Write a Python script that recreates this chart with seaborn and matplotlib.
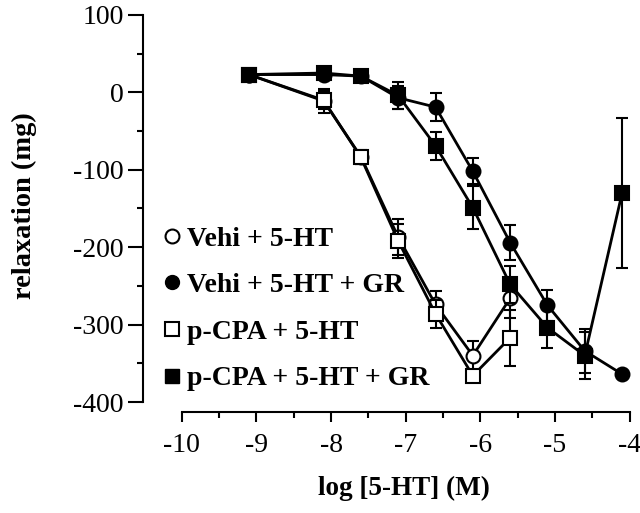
import numpy as np
import pandas as pd
import matplotlib
matplotlib.use("Agg")
import matplotlib.pyplot as plt
import seaborn as sns
from matplotlib.ticker import FixedLocator
from matplotlib.lines import Line2D

# ---- data ----
log_conc = [-9.1, -8.1, -7.6, -7.1, -6.6, -6.1, -5.6, -5.1, -4.6, -4.1]

vehi_5ht = [23, -11, -83, -187, -274, -340, -266]
vehi_5ht_err = [0, 15, 9, 23, 17, 19, 25]

vehi_5ht_gr = [23, 23, 21, -7, -19, -102, -194, -275, -334, -364]
vehi_5ht_gr_err = [0, 0, 0, 15, 18, 17, 23, 20, 28, 0]

pcpa_5ht = [23, -10, -84, -192, -286, -366, -317]
pcpa_5ht_err = [0, 12, 8, 22, 18, 5, 36]

pcpa_5ht_gr = [23, 25, 21, -4, -69, -149, -248, -304, -340, -130]
pcpa_5ht_gr_err = [0, 0, 0, 17, 18, 28, 24, 26, 30, 97]

labels = ["Vehi + 5-HT", "Vehi + 5-HT + GR", "p-CPA + 5-HT", "p-CPA + 5-HT + GR"]
x_ticks = [-10, -9, -8, -7, -6, -5, -4]
x_minor = [-9.5, -8.5, -7.5, -6.5, -5.5, -4.5]
y_ticks = [100, 0, -100, -200, -300, -400]
y_minor = [50, -50, -150, -250, -350]

series = [
    (vehi_5ht, vehi_5ht_err, "o", "white"),
    (vehi_5ht_gr, vehi_5ht_gr_err, "o", "black"),
    (pcpa_5ht, pcpa_5ht_err, "s", "white"),
    (pcpa_5ht_gr, pcpa_5ht_gr_err, "s", "black"),
]

sns.set_style("ticks")
plt.rcParams["font.family"] = ["Liberation Serif", "DejaVu Serif"]
for k in ["text.color", "axes.labelcolor", "xtick.color", "ytick.color", "axes.edgecolor"]:
    plt.rcParams[k] = "black"

fig = plt.figure(figsize=(6.4, 5.13), dpi=100)
ax = fig.add_axes([0.2234, 0.1969, 0.7703, 0.7739])

for i, (vals, errs, mk, fc) in enumerate(series):
    xs = log_conc[:len(vals)]
    df = pd.DataFrame({"x": xs, "y": vals})
    ax.errorbar(xs, vals, yerr=errs, fmt="none", ecolor="black",
                elinewidth=1.5, capsize=4.5, capthick=1.5, zorder=2 + i)
    sns.lineplot(data=df, x="x", y="y", ax=ax, color="black", linewidth=2.0,
                 marker=mk, markersize=10, markerfacecolor=fc,
                 markeredgecolor="black", markeredgewidth=1.5,
                 clip_on=False, zorder=3 + i, legend=False)

ax.set_xlim(-10.52, -3.914)
ax.set_ylim(-412.9, 100)
ax.spines["left"].set_bounds(-400, 100)
ax.spines["bottom"].set_bounds(-10, -4)
ax.spines["top"].set_visible(False)
ax.spines["right"].set_visible(False)
for s in ["left", "bottom"]:
    ax.spines[s].set_linewidth(1.5)

ax.set_xticks(x_ticks)
ax.set_xticklabels([str(t) for t in x_ticks])
ax.set_yticks(y_ticks)
ax.set_yticklabels([str(t) for t in y_ticks])
ax.xaxis.set_minor_locator(FixedLocator(x_minor))
ax.yaxis.set_minor_locator(FixedLocator(y_minor))
ax.tick_params(axis="y", which="major", direction="out", length=11, width=1.5,
               labelsize=20, pad=3)
ax.tick_params(axis="y", which="minor", direction="out", length=4, width=1.5)
ax.tick_params(axis="x", which="major", direction="out", length=7, width=1.5,
               labelsize=20, pad=8)
ax.tick_params(axis="x", which="minor", direction="out", length=4, width=1.5)

ax.set_xlabel("log [5-HT] (M)", fontsize=19.5, fontweight="bold")
ax.set_ylabel("relaxation (mg)", fontsize=20.5, fontweight="bold")
ax.xaxis.set_label_coords(0.53, -0.16)
ax.yaxis.set_label_coords(-0.215, 0.519)

handles = [
    Line2D([], [], linestyle="none", marker="o", markersize=10, markerfacecolor="white",
           markeredgecolor="black", markeredgewidth=1.5),
    Line2D([], [], linestyle="none", marker="o", markersize=10, markerfacecolor="black",
           markeredgecolor="black"),
    Line2D([], [], linestyle="none", marker="s", markersize=9.5, markerfacecolor="white",
           markeredgecolor="black", markeredgewidth=1.5),
    Line2D([], [], linestyle="none", marker="s", markersize=9.5, markerfacecolor="black",
           markeredgecolor="black"),
]
leg = ax.legend(handles, labels, loc="upper left", bbox_to_anchor=(0.0197, 0.496),
                frameon=False, handlelength=0.6, handletextpad=0.24,
                labelspacing=0.76, borderaxespad=0.0,
                prop={"family": ["Liberation Serif"], "weight": "bold", "size": 20})

fig.savefig("out.png", dpi=100)
